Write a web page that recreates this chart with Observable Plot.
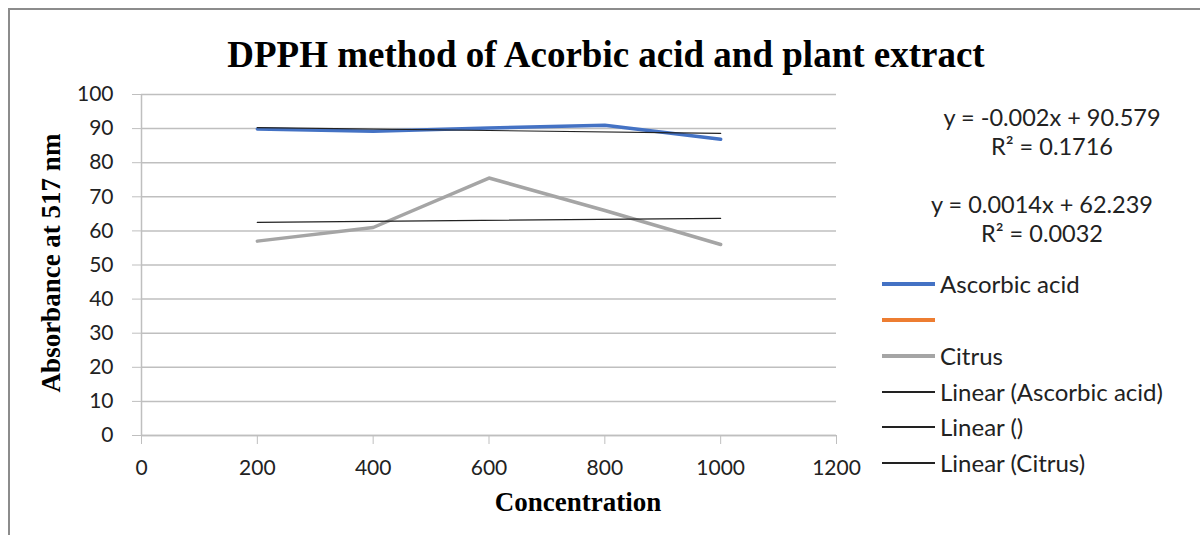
<!DOCTYPE html>
<html>
<head>
<meta charset="utf-8">
<script src="https://cdn.jsdelivr.net/npm/d3@7"></script>
<script src="https://cdn.jsdelivr.net/npm/@observablehq/plot@0.6"></script>
<style>
  html, body { margin: 0; padding: 0; background: #fff; }
  #wrap { position: relative; width: 1200px; height: 535px; overflow: hidden; }
  #frame { position: absolute; left: 8px; top: 8px; width: 1210px; height: 540px; border: 2px solid #8c8c8c; box-sizing: border-box; pointer-events: none; }
  .ttl { position: absolute; font-family: "Liberation Serif", "Times New Roman", serif; font-weight: bold; color: #000; white-space: nowrap; line-height: 1.15; }
  .txt { position: absolute; font-family: Lato, "Open Sans", sans-serif; color: #222; white-space: nowrap; line-height: 1.2; }
  .sw { position: absolute; }
</style>
</head>
<body>
<div id="wrap">
  <div id="chart"></div>
  <div id="frame"></div>
</div>
<script>
// ---- data ----
const concentration = [200, 400, 600, 800, 1000];
const ascorbicAcid = [89.9, 89.2, 90.2, 91.0, 86.9];
const blankSeries = [];            // the unnamed (orange) series has no points
const citrus = [57.0, 61.0, 75.5, 66.0, 56.0];
const xTicks = [0, 200, 400, 600, 800, 1000, 1200];
const yTicks = [0, 10, 20, 30, 40, 50, 60, 70, 80, 90, 100];
const titleText = "DPPH method of Acorbic acid and plant extract";
const xLabel = "Concentration";
const yLabel = "Absorbance at 517 nm";
const equations = [
  ["y = -0.002x + 90.579", "R² = 0.1716"],
  ["y = 0.0014x + 62.239", "R² = 0.0032"]
];
const legendItems = [
  {name: "Ascorbic acid", color: "#4472C4", width: 3.5},
  {name: "", color: "#ED7D31", width: 3.5},
  {name: "Citrus", color: "#A5A5A5", width: 3.5},
  {name: "Linear (Ascorbic acid)", color: "#222", width: 1.2},
  {name: "Linear ()", color: "#222", width: 1.2},
  {name: "Linear (Citrus)", color: "#222", width: 1.2}
];

const ascData = concentration.map((c, i) => ({x: c, y: ascorbicAcid[i]}));
const citData = concentration.map((c, i) => ({x: c, y: citrus[i]}));
const blankData = blankSeries.map((v, i) => ({x: concentration[i], y: v}));

const chart = Plot.plot({
  width: 1200,
  height: 535,
  marginLeft: 141,
  marginRight: 364,
  marginTop: 94,
  marginBottom: 100,
  style: {fontFamily: "Lato, 'Open Sans', sans-serif", fontSize: "21px", color: "#222", background: "transparent"},
  x: {domain: [0, 1200], ticks: xTicks, tickFormat: d => String(d), label: null},
  y: {domain: [0, 100], ticks: yTicks, tickFormat: d => String(d), label: null},
  marks: [
    Plot.gridY(yTicks, {stroke: "#bfbfbf", strokeOpacity: 1, strokeWidth: 1.5}),
    Plot.ruleX([0], {stroke: "#bfbfbf", strokeWidth: 1.5}),
    Plot.ruleY([0], {stroke: "#bfbfbf", strokeWidth: 1.5}),
    Plot.axisX(xTicks, {tickSize: 9, tickPadding: 16, stroke: "#bfbfbf", strokeOpacity: 1, fill: "#222", fontSize: 21, tickFormat: d => String(d), label: null}),
    Plot.axisY(yTicks, {tickSize: 9, tickPadding: 19, stroke: "#bfbfbf", strokeOpacity: 1, fill: "#222", fontSize: 21, tickFormat: d => String(d), label: null}),
    Plot.line(blankData, {x: "x", y: "y", stroke: "#ED7D31", strokeWidth: 3.5}),
    Plot.line(citData, {x: "x", y: "y", stroke: "#A5A5A5", strokeWidth: 3.5}),
    Plot.line(ascData, {x: "x", y: "y", stroke: "#4472C4", strokeWidth: 3.5}),
    Plot.linearRegressionY(ascData, {x: "x", y: "y", stroke: "#222", strokeWidth: 1.2, ci: 0}),
    Plot.linearRegressionY(citData, {x: "x", y: "y", stroke: "#222", strokeWidth: 1.2, ci: 0})
  ]
});
document.getElementById("chart").appendChild(chart);

const wrap = document.getElementById("wrap");
function addText(cls, text, css) {
  const d = document.createElement("div");
  d.className = cls;
  d.textContent = text;
  Object.assign(d.style, css);
  wrap.appendChild(d);
  return d;
}
// title
addText("ttl", titleText, {left: "606px", top: "55px", fontSize: "37px", transform: "translate(-50%,-50%)"});
// x label
addText("ttl", xLabel, {left: "578px", top: "503px", fontSize: "27px", transform: "translate(-50%,-50%)"});
// y label
addText("ttl", yLabel, {left: "52px", top: "263px", fontSize: "27px", transform: "translate(-50%,-50%) rotate(-90deg)"});
// equations
const eqCenters = [[1052, [117, 146]], [1042, [204, 233]]];
equations.forEach((eq, i) => {
  eq.forEach((line, j) => {
    addText("txt", line, {left: eqCenters[i][0] + "px", top: eqCenters[i][1][j] + "px", fontSize: "23.5px", transform: "translate(-50%,-50%)"});
  });
});
// legend
const legRows = [284, 320, 356, 392, 427, 463];
legendItems.forEach((it, i) => {
  const cy = legRows[i];
  const sw = document.createElement("div");
  sw.className = "sw";
  Object.assign(sw.style, {left: "882px", width: "53px", top: (cy - it.width / 2) + "px", height: it.width + "px", background: it.color});
  wrap.appendChild(sw);
  addText("txt", it.name, {left: "940px", top: cy + "px", fontSize: "24px", transform: "translateY(-50%)"});
});
</script>
</body>
</html>
